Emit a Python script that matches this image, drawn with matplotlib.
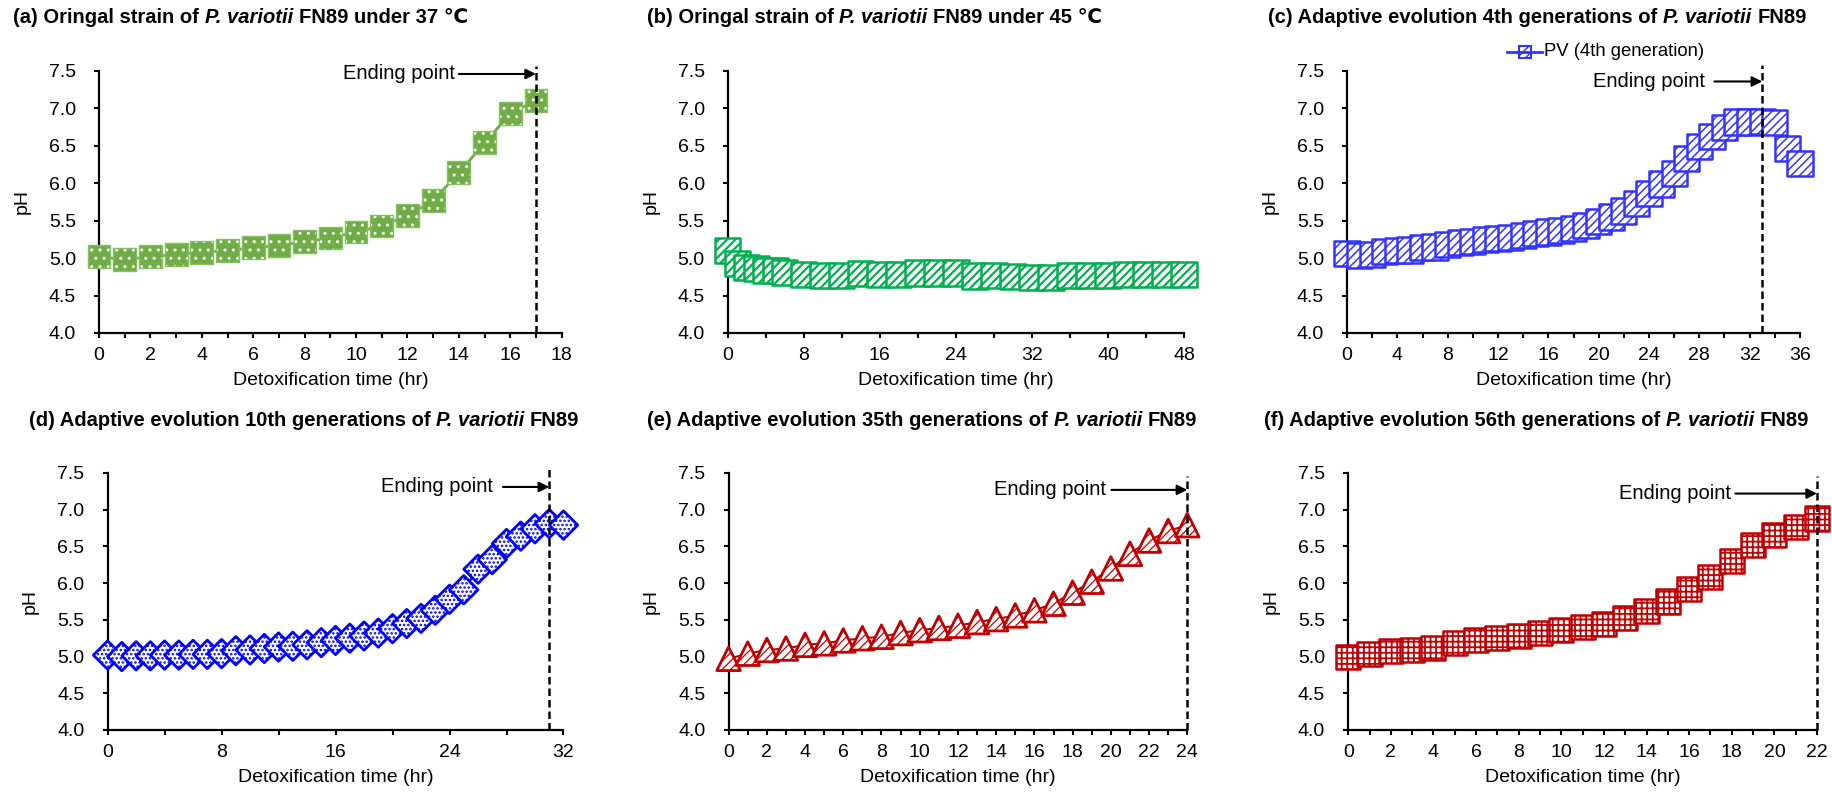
import matplotlib
matplotlib.use("Agg")
import matplotlib.pyplot as plt
import matplotlib.transforms as mtransforms
from matplotlib.lines import Line2D
from matplotlib.patches import Rectangle
import numpy as np

W, H, DPI = 1833, 792, 100
plt.rcParams['font.family'] = ['Liberation Sans', 'DejaVu Sans']

# ---------------- data ----------------
a_time = [0, 1, 2, 3, 4, 5, 6, 7, 8, 9, 10, 11, 12, 13, 14, 15, 16, 17]
a_ph = [5.02, 4.98, 5.02, 5.05, 5.08, 5.10, 5.14, 5.17, 5.22, 5.27, 5.35, 5.43,
        5.57, 5.77, 6.14, 6.54, 6.93, 7.11]

b_time = [0, 1, 2, 3, 4, 5, 6, 8, 10, 12, 14, 16, 18, 20, 22, 24, 26, 28, 30,
          32, 34, 36, 38, 40, 42, 44, 46, 48]
b_ph = [5.10, 4.93, 4.88, 4.86, 4.84, 4.83, 4.81, 4.78, 4.77, 4.77, 4.79, 4.78,
        4.78, 4.80, 4.80, 4.80, 4.76, 4.77, 4.75, 4.74, 4.74, 4.77, 4.77, 4.77,
        4.78, 4.78, 4.78, 4.78]

c_time = list(range(0, 37))
c_ph = [5.06, 5.04, 5.05, 5.09, 5.10, 5.11, 5.14, 5.15, 5.18, 5.21, 5.22, 5.25,
        5.26, 5.28, 5.30, 5.33, 5.35, 5.37, 5.40, 5.44, 5.49, 5.55, 5.63, 5.73,
        5.86, 5.99, 6.13, 6.33, 6.49, 6.62, 6.75, 6.82, 6.82, 6.83, 6.81, 6.46,
        6.26]

d_time = list(range(0, 33))
d_ph = [5.02, 5.00, 5.01, 5.01, 5.02, 5.02, 5.03, 5.03, 5.04, 5.08, 5.09, 5.11,
        5.13, 5.14, 5.16, 5.19, 5.22, 5.25, 5.28, 5.32, 5.38, 5.45, 5.52, 5.63,
        5.78, 5.91, 6.19, 6.32, 6.54, 6.64, 6.74, 6.81, 6.79]

e_time = list(range(0, 25))
e_ph = [4.97, 5.04, 5.09, 5.11, 5.16, 5.18, 5.22, 5.25, 5.27, 5.32, 5.36, 5.39,
        5.42, 5.47, 5.51, 5.56, 5.63, 5.72, 5.87, 6.02, 6.20, 6.40, 6.58, 6.71,
        6.79]

f_time = list(range(0, 23))
f_ph = [5.00, 5.03, 5.07, 5.09, 5.12, 5.18, 5.22, 5.25, 5.28, 5.32, 5.36, 5.40,
        5.44, 5.52, 5.62, 5.75, 5.92, 6.09, 6.30, 6.52, 6.65, 6.77, 6.88]

titles = [
    [("(a) Oringal strain of", "normal"), ("P. variotii", "italic"), ("FN89 under 37 \u2103", "normal")],
    [("(b) Oringal strain of", "normal"), ("P. variotii", "italic"), ("FN89 under 45 \u2103", "normal")],
    [("(c) Adaptive evolution 4th generations of", "normal"), ("P. variotii", "italic"), ("FN89", "normal")],
    [("(d) Adaptive evolution 10th generations of", "normal"), ("P. variotii", "italic"), ("FN89", "normal")],
    [("(e) Adaptive evolution 35th generations of", "normal"), ("P. variotii", "italic"), ("FN89", "normal")],
    [("(f) Adaptive evolution 56th generations of", "normal"), ("P. variotii", "italic"), ("FN89", "normal")],
]
xlabel_text = "Detoxification time (hr)"
ylabel_text = "pH"
end_text = "Ending point"
legend_c = "PV (4th generation)"

fig = plt.figure(figsize=(W / DPI, H / DPI), dpi=DPI)
ident = mtransforms.IdentityTransform()


def px_axes(l, r, t, b):
    return fig.add_axes([l / W, 1 - b / H, (r - l) / W, (b - t) / H])


def rich_title(xc, ybase_top, parts, size=14.5):
    r = fig.canvas.get_renderer()
    fam = ['Liberation Sans', 'DejaVu Sans']
    t1 = fig.text(0, 0, "a a", fontsize=size, fontweight='bold', family=fam, transform=ident)
    t2 = fig.text(0, 0, "aa", fontsize=size, fontweight='bold', family=fam, transform=ident)
    sp = t1.get_window_extent(r).width - t2.get_window_extent(r).width
    t1.remove(); t2.remove()
    objs, widths = [], []
    for s, style in parts:
        t = fig.text(0, H - ybase_top, s, fontsize=size, fontweight='bold', fontstyle=style,
                     family=fam, transform=ident, va='baseline', ha='left')
        objs.append(t)
        widths.append(t.get_window_extent(r).width)
    total = sum(widths) + sp * (len(parts) - 1)
    x = xc - total / 2
    for t, w in zip(objs, widths):
        t.set_x(x)
        x += w + sp


panels = [
    dict(pos=(99, 561.7, 71, 333), xmax=18, major=2, minor=1, t=a_time, y=a_ph,
         color='#70AD47', marker='s', s=270, face='#70AD47', edge='white', lw=0, hatch='..',
         hlw=1.0, line_lw=2.0, outline='#86BF63',
         end=dict(xe=17, ytop=7.57, ya=7.46, xs=14.0, xt=13.85),
         title_c=240.5, title_y=23),
    dict(pos=(727.8, 1184, 71, 333), xmax=48, major=8, minor=4, t=b_time, y=b_ph,
         color='#00B050', marker='s', s=330, face='white', edge='#00B050', lw=1.8, hatch='////',
         hlw=1.6, line_lw=1.5, outline=None, end=None, title_c=874.5, title_y=23),
    dict(pos=(1347, 1800, 71, 333), xmax=36, major=4, minor=2, t=c_time, y=c_ph,
         color='#3333FF', marker='s', s=330, face='white', edge='#3333FF', lw=1.8, hatch='////',
         hlw=1.1, line_lw=1.5, outline=None,
         end=dict(xe=33, ytop=7.58, ya=7.36, xs=29.2, xt=28.46),
         title_c=1537.5, title_y=23),
    dict(pos=(107.6, 563.5, 473, 730), xmax=32, major=8, minor=4, t=d_time, y=d_ph,
         color='#0000FF', marker='D', s=210, face='white', edge='#0000FF', lw=2.0, hatch='....',
         hlw=1.2, line_lw=1.5, outline=None,
         end=dict(xe=31, ytop=7.55, ya=7.31, xs=27.75, xt=27.08),
         title_c=304, title_y=426),
    dict(pos=(728.6, 1187.3, 473, 730), xmax=24, major=2, minor=1, t=e_time, y=e_ph,
         color='#C00000', marker='^', s=290, face='white', edge='#C00000', lw=2.0, hatch='////',
         hlw=0.9, line_lw=1.5, outline=None,
         end=dict(xe=24, ytop=7.46, ya=7.27, xs=20.03, xt=19.75),
         title_c=922, title_y=426),
    dict(pos=(1348.2, 1817, 473, 730), xmax=22, major=2, minor=1, t=f_time, y=f_ph,
         color='#C00000', marker='s', s=300, face='white', edge='#C00000', lw=1.8, hatch='+++',
         hlw=1.3, line_lw=1.5, outline=None,
         end=dict(xe=22, ytop=7.46, ya=7.22, xs=18.17, xt=17.98),
         title_c=1536.5, title_y=426),
]

for i, p in enumerate(panels):
    l, r, t, b = p['pos']
    ax = px_axes(l, r, t, b)
    aw, ah = r - l, b - t
    ax.set_xlim(0, p['xmax'])
    ax.set_ylim(4.0, 7.5)
    ax.set_xticks(np.arange(0, p['xmax'] + 1, p['major']))
    ax.set_xticks(np.arange(0, p['xmax'] + 1, p['minor']), minor=True)
    ax.set_yticks(np.arange(4.0, 7.51, 0.5))
    ax.set_yticklabels([f"{v:.1f}" for v in np.arange(4.0, 7.51, 0.5)])
    for side in ('top', 'right'):
        ax.spines[side].set_visible(False)
    for side in ('left', 'bottom'):
        ax.spines[side].set_linewidth(1.6)
    ax.tick_params(which='both', direction='out', length=3.6, width=1.5, labelsize=14)
    ax.tick_params(axis='y', pad=13)
    ax.tick_params(axis='x', pad=6.5)
    ax.set_xlabel(xlabel_text, fontsize=14)
    ax.xaxis.set_label_coords(0.5, -48 / ah)
    ax.xaxis.label.set_va('center')
    ax.set_ylabel(ylabel_text, fontsize=14)
    ax.yaxis.set_label_coords(-77 / aw, 0.5)
    ax.yaxis.label.set_va('center')

    ax.plot(p['t'], p['y'], color=p['color'], lw=p['line_lw'], zorder=2, clip_on=False)
    plt.rcParams['hatch.linewidth'] = p['hlw']
    ax.scatter(p['t'], p['y'], s=p['s'], marker=p['marker'], facecolors=p['face'],
               edgecolors=p['edge'], linewidths=p['lw'], hatch=p['hatch'], zorder=3,
               clip_on=False)
    if p['outline'] is not None:
        ax.scatter(p['t'], p['y'], s=p['s'], marker=p['marker'], facecolors='none',
                   edgecolors=p['outline'], linewidths=1.0, zorder=3.5, clip_on=False)

    e = p['end']
    if e is not None:
        ax.plot([e['xe'], e['xe']], [4.0, e['ytop']], color='black', lw=1.8,
                ls=(0, (3, 1.6)), zorder=4, clip_on=False)
        ax.annotate('', xy=(e['xe'], e['ya']), xytext=(e['xs'], e['ya']),
                    arrowprops=dict(arrowstyle='-|>', color='black', lw=1.5,
                                    shrinkA=0, shrinkB=0, mutation_scale=15),
                    zorder=5, annotation_clip=False)
        ax.text(e['xt'], e['ya'], end_text, ha='right', va='center', fontsize=14.5, zorder=5)

    rich_title(p['title_c'], p['title_y'], titles[i])

# legend for panel (c)
plt.rcParams['hatch.linewidth'] = 1.0
ly = 52
fig.add_artist(Line2D([1507 / W, 1542.5 / W], [1 - ly / H, 1 - ly / H], color='#3333FF', lw=2))
fig.add_artist(Rectangle(((1525 - 6) / W, 1 - (ly + 6) / H), 12 / W, 12 / H,
                         facecolor='white', edgecolor='#3333FF', lw=1.5, hatch='////'))
fig.text(1544.5, H - ly, legend_c, fontsize=13.3, ha='left', va='center', transform=ident)

fig.savefig('out.png', dpi=DPI)
